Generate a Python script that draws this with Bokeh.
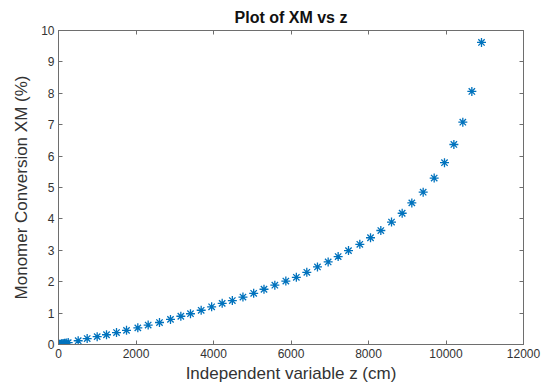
from bokeh.plotting import figure
from bokeh.models import LinearAxis, FixedTicker, Range1d, CustomJSTickFormatter
from bokeh.embed import file_html
from bokeh.resources import INLINE

# Data
z_cm = [0, 25, 50, 80, 115, 155, 200, 250,
        508, 740, 998, 1239, 1497, 1755, 2047, 2314, 2606, 2890,
        3157, 3406, 3682, 3952, 4224, 4486, 4760, 5037, 5303, 5583,
        5867, 6138, 6408, 6683, 6959, 7217, 7484, 7776, 8052, 8318,
        8594, 8869, 9118, 9411, 9695, 9961, 10203, 10434, 10667, 10916]
xm_pct = [0.0, 0.005, 0.01, 0.02, 0.03, 0.04, 0.05, 0.06,
          0.12, 0.19, 0.25, 0.31, 0.38, 0.45, 0.53, 0.62, 0.70, 0.80,
          0.90, 0.98, 1.09, 1.20, 1.31, 1.40, 1.51, 1.63, 1.76, 1.89,
          2.02, 2.14, 2.30, 2.47, 2.63, 2.80, 2.99, 3.19, 3.40, 3.63,
          3.90, 4.18, 4.51, 4.85, 5.30, 5.79, 6.37, 7.08, 8.06, 9.62]
x_ticks = [0, 2000, 4000, 6000, 8000, 10000, 12000]
y_ticks = [0, 1, 2, 3, 4, 5, 6, 7, 8, 9, 10]

FONT = "Liberation Sans"
AX = "#6e6e6e"
TXT = "#333333"

p = figure(width=545, height=385, output_backend="svg", toolbar_location=None,
           x_range=Range1d(0, 12000), y_range=Range1d(0, 10),
           x_axis_label="Independent variable z (cm)",
           y_axis_label="Monomer Conversion XM (%)",
           min_border_left=58, min_border_right=22,
           min_border_top=30, min_border_bottom=41)

p.title.text = "Plot of XM vs z"
p.title.align = "center"
p.title.text_font = FONT
p.title.text_font_size = "16px"
p.title.text_font_style = "bold"
p.title.text_color = "#111111"
p.title.offset = 28

p.grid.visible = False
p.outline_line_color = AX
p.background_fill_color = "white"
p.border_fill_color = "white"

for ax in (p.xaxis[0], p.yaxis[0]):
    ax.axis_line_color = AX
    ax.major_tick_line_color = AX
    ax.major_tick_in = 4
    ax.major_tick_out = 0
    ax.minor_tick_line_color = None
    ax.major_label_text_font = FONT
    ax.major_label_text_font_size = "12px"
    ax.major_label_text_color = TXT
    ax.axis_label_text_font = FONT
    ax.axis_label_text_font_size = "17px"
    ax.axis_label_text_font_style = "normal"
    ax.axis_label_text_color = TXT

p.xaxis[0].ticker = FixedTicker(ticks=x_ticks)
p.yaxis[0].ticker = FixedTicker(ticks=y_ticks)
p.xaxis[0].axis_label_standoff = 3
p.yaxis[0].axis_label_standoff = 7
p.xaxis[0].major_label_standoff = 4
p.yaxis[0].major_label_standoff = 4

blank = CustomJSTickFormatter(code="return ''")
top = LinearAxis(ticker=FixedTicker(ticks=x_ticks), formatter=blank)
right = LinearAxis(ticker=FixedTicker(ticks=y_ticks), formatter=blank)
for ax in (top, right):
    ax.axis_line_color = AX
    ax.major_tick_line_color = AX
    ax.major_tick_in = 4
    ax.major_tick_out = 0
    ax.minor_tick_line_color = None
    ax.major_label_text_font_size = "1px"
    ax.major_label_standoff = 0
p.add_layout(top, "above")
p.add_layout(right, "right")

p.scatter(z_cm, xm_pct, marker="asterisk", size=9, line_color="#0072BD",
          line_width=1.3)

open("out.html", "w").write(file_html(p, INLINE))
